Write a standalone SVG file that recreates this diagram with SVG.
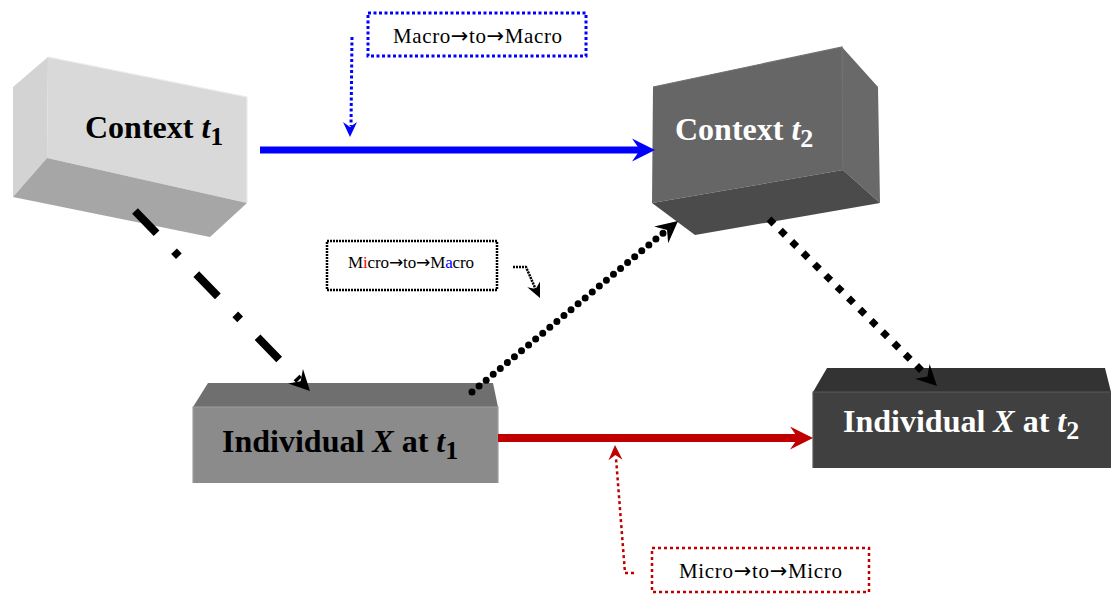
<svg xmlns="http://www.w3.org/2000/svg" width="1111" height="594" viewBox="0 0 1111 594">
  <style>
    .lbl { font-family: "Liberation Serif", "Times New Roman", serif; font-weight: bold; font-size: 32px; }
    .sub { font-size: 26px; }
    .it { font-style: italic; }
    .note { font-family: "Liberation Serif", "Times New Roman", serif; }
    .ar { font-family: "DejaVu Sans", sans-serif; }
    .edge { fill: none; stroke-width: 1.2; }
  </style>
  <defs>
    <!-- notched arrowhead pointing along +x, tip at origin -->
    <path id="head" d="M0,0 L-23,-11.5 L-15,0 L-23,11.5 Z"/>
    <path id="headSm" d="M0,0 L-15,-7 L-10,0 L-15,7 Z"/>
  </defs>
  <rect width="1111" height="594" fill="#ffffff"/>

  <!-- Context t1 -->
  <g id="context-t1">
    <polygon points="13,87 48,57 47,158 13,197" fill="#d3d3d3"/>
    <polygon points="48,57 247,97 247,203 47,158" fill="#d9d9d9"/>
    <polygon points="13,197 47,158 247,203 210,237" fill="#a6a6a6"/>
    <polyline class="edge" points="48,57 247,97 247,203" stroke="#ececec"/>
    <text class="lbl" x="85" y="138" fill="#000000">Context <tspan class="it">t</tspan><tspan class="sub" dy="7">1</tspan></text>
  </g>

  <!-- Context t2 -->
  <g id="context-t2">
    <polygon points="653,87 842,47 843,170 652,203" fill="#666666"/>
    <polygon points="842,47 878,87 880,203 843,170" fill="#696969"/>
    <polygon points="652,203 843,170 880,203 695,235" fill="#4b4b4b"/>
    <polyline class="edge" points="653,87 842,47 843,170" stroke="#707070"/>
    <text class="lbl" x="675" y="140" fill="#ffffff">Context <tspan class="it">t</tspan><tspan class="sub" dy="7">2</tspan></text>
  </g>

  <!-- Individual X at t1 -->
  <g id="individual-t1">
    <polygon points="193,407 208,383 493,383 498,407" fill="#6f6f6f"/>
    <rect x="193" y="407" width="305" height="76" fill="#8b8b8b"/>
    <polyline class="edge" points="193,483 193,407 498,407 498,483" stroke="#a0a0a0"/>
    <text class="lbl" x="222" y="452" fill="#000000">Individual <tspan class="it">X</tspan> at <tspan class="it">t</tspan><tspan class="sub" dy="7">1</tspan></text>
  </g>

  <!-- Individual X at t2 -->
  <g id="individual-t2">
    <polygon points="813,392 827,368 1105,368 1111,392" fill="#333333"/>
    <rect x="813" y="392" width="298" height="76" fill="#404040"/>
    <polyline class="edge" points="813,468 813,392 1111,392" stroke="#5a5a5a"/>
    <text class="lbl" x="843" y="432" fill="#ffffff">Individual <tspan class="it">X</tspan> at <tspan class="it">t</tspan><tspan class="sub" dy="7">2</tspan></text>
  </g>

  <!-- Callout labels -->
  <g id="note-macro-macro">
    <rect x="368" y="13" width="218" height="43" fill="none" stroke="#0000ff" stroke-width="3" stroke-dasharray="3 2.5"/>
    <text class="note" x="393" y="43" font-size="21" textLength="169" lengthAdjust="spacing">Macro<tspan class="ar">→</tspan>to<tspan class="ar">→</tspan>Macro</text>
  </g>
  <g id="note-micro-macro">
    <rect x="327" y="241" width="170" height="49" fill="none" stroke="#000000" stroke-width="2.5" stroke-dasharray="2 1"/>
    <text class="note" x="348" y="268" font-size="17" textLength="126" lengthAdjust="spacing">M<tspan fill="#ff0000">i</tspan>cro<tspan class="ar">→</tspan>to<tspan class="ar">→</tspan>M<tspan fill="#0000ff">a</tspan>cro</text>
  </g>
  <g id="note-micro-micro">
    <rect x="652" y="548" width="217" height="44" fill="none" stroke="#c00000" stroke-width="2.5" stroke-dasharray="3 3"/>
    <text class="note" x="679" y="578" font-size="21" textLength="163" lengthAdjust="spacing">Micro<tspan class="ar">→</tspan>to<tspan class="ar">→</tspan>Micro</text>
  </g>

  <!-- Connectors -->
  <g id="connectors">
    <!-- macro to macro -->
    <line x1="260" y1="150" x2="642" y2="150" stroke="#0000ff" stroke-width="7"/>
    <use href="#head" transform="translate(655,150)" fill="#0000ff"/>
    <!-- micro to micro -->
    <line x1="498" y1="438" x2="800" y2="438" stroke="#c00000" stroke-width="8"/>
    <use href="#head" transform="translate(813,438)" fill="#c00000"/>
    <!-- context t1 to individual t1 -->
    <line x1="135" y1="211" x2="299" y2="380" stroke="#000000" stroke-width="8" stroke-dasharray="31 25 7 25"/>
    <use href="#head" transform="translate(310,391) rotate(45.8) scale(0.9)" fill="#000000"/>
    <!-- individual t1 to context t2 -->
    <line x1="472" y1="392" x2="668" y2="229" stroke="#000000" stroke-width="7" stroke-linecap="round" stroke-dasharray="0 9.2"/>
    <use href="#head" transform="translate(678,221) rotate(-39.7) scale(0.95)" fill="#000000"/>
    <!-- context t2 to individual t2 -->
    <line x1="769" y1="219" x2="926" y2="375" stroke="#000000" stroke-width="7" stroke-dasharray="7 9"/>
    <use href="#head" transform="translate(937,386) rotate(44.8) scale(0.9)" fill="#000000"/>
    <!-- callout pointers -->
    <path d="M352,37 L351,126" fill="none" stroke="#0000ff" stroke-width="3" stroke-dasharray="3 2.5"/>
    <use href="#headSm" transform="translate(350,137) rotate(90)" fill="#0000ff"/>
    <path d="M513,267 L526,267 L536,290" fill="none" stroke="#000000" stroke-width="2.5" stroke-dasharray="2 1"/>
    <use href="#headSm" transform="translate(540,298) rotate(65)" fill="#000000"/>
    <path d="M634,573 L625,573 L616,458" fill="none" stroke="#c00000" stroke-width="2.5" stroke-dasharray="3 3"/>
    <use href="#headSm" transform="translate(615,445) rotate(-92)" fill="#c00000"/>
  </g>
</svg>
